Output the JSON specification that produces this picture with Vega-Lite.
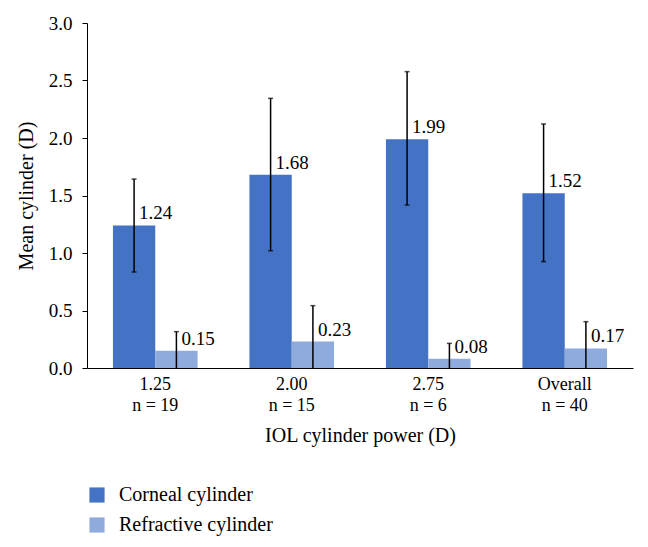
{
  "$schema": "https://vega.github.io/schema/vega-lite/v6.json",
  "autosize": {"type": "none"},
  "width": 546,
  "height": 345,
  "padding": {"left": 87, "top": 23, "right": 15, "bottom": 179},
  "background": "white",
  "config": {
    "font": "Liberation Serif",
    "view": {"stroke": null},
    "axis": {"domainColor": "black", "tickColor": "black", "labelColor": "black", "titleColor": "black", "grid": false, "labelFont": "Liberation Serif", "titleFont": "Liberation Serif", "titleFontWeight": "normal"}
  },
  "data": {
    "values": [
      {"group": "1.25|n = 19", "series": "Corneal cylinder", "value": 1.24, "lo": 0.835, "hi": 1.643},
      {"group": "1.25|n = 19", "series": "Refractive cylinder", "value": 0.15, "lo": 0, "hi": 0.316},
      {"group": "2.00|n = 15", "series": "Corneal cylinder", "value": 1.68, "lo": 1.02, "hi": 2.345},
      {"group": "2.00|n = 15", "series": "Refractive cylinder", "value": 0.23, "lo": 0, "hi": 0.542},
      {"group": "2.75|n = 6", "series": "Corneal cylinder", "value": 1.99, "lo": 1.417, "hi": 2.577},
      {"group": "2.75|n = 6", "series": "Refractive cylinder", "value": 0.08, "lo": 0, "hi": 0.214},
      {"group": "Overall|n = 40", "series": "Corneal cylinder", "value": 1.52, "lo": 0.925, "hi": 2.122},
      {"group": "Overall|n = 40", "series": "Refractive cylinder", "value": 0.17, "lo": 0, "hi": 0.403}
    ]
  },
  "encoding": {
    "x": {
      "field": "group", "type": "nominal", "sort": null,
      "scale": {"paddingInner": 0.38, "paddingOuter": 0.19},
      "axis": {
        "title": "IOL cylinder power (D)", "labelAngle": 0, "ticks": false,
        "labelExpr": "split(datum.value, '|')",
        "labelFontSize": 18, "labelPadding": 7, "labelLineHeight": 21,
        "titleFontSize": 20, "titlePadding": 11, "domainWidth": 1
      }
    },
    "xOffset": {"field": "series", "type": "nominal", "sort": ["Corneal cylinder", "Refractive cylinder"], "scale": {"paddingInner": 0, "paddingOuter": 0}}
  },
  "layer": [
    {
      "mark": {"type": "bar"},
      "encoding": {
        "y": {
          "field": "value", "type": "quantitative",
          "scale": {"domain": [0, 3]},
          "axis": {"title": "Mean cylinder (D)", "values": [0, 0.5, 1, 1.5, 2, 2.5, 3], "format": ".1f", "tickSize": 5, "labelPadding": 10, "labelFontSize": 19, "titleFontSize": 20, "titlePadding": 12}
        },
        "color": {
          "field": "series", "type": "nominal",
          "scale": {"domain": ["Corneal cylinder", "Refractive cylinder"], "range": ["#4472C4", "#8FAADC"]},
          "legend": {"title": null, "orient": "none", "legendX": 0, "legendY": 462, "symbolType": "square", "symbolSize": 230, "symbolStrokeWidth": 0, "labelFontSize": 20, "labelColor": "black", "labelOffset": 12, "rowPadding": 10, "labelFont": "Liberation Serif"}
        }
      }
    },
    {
      "mark": {"type": "rule", "color": "black", "strokeWidth": 1.5},
      "encoding": {
        "y": {"field": "lo", "type": "quantitative"},
        "y2": {"field": "hi"}
      }
    },
    {
      "mark": {"type": "tick", "color": "black", "thickness": 1.5, "size": 5},
      "encoding": {
        "y": {"field": "hi", "type": "quantitative"}
      }
    },
    {
      "transform": [{"filter": "datum.lo > 0"}],
      "mark": {"type": "tick", "color": "black", "thickness": 1.5, "size": 5},
      "encoding": {
        "y": {"field": "lo", "type": "quantitative"}
      }
    },
    {
      "mark": {"type": "text", "align": "left", "baseline": "alphabetic", "dx": 5, "dy": -6, "fontSize": 19, "color": "black"},
      "encoding": {
        "y": {"field": "value", "type": "quantitative"},
        "text": {"field": "value", "type": "quantitative", "format": ".2f"}
      }
    }
  ]
}
